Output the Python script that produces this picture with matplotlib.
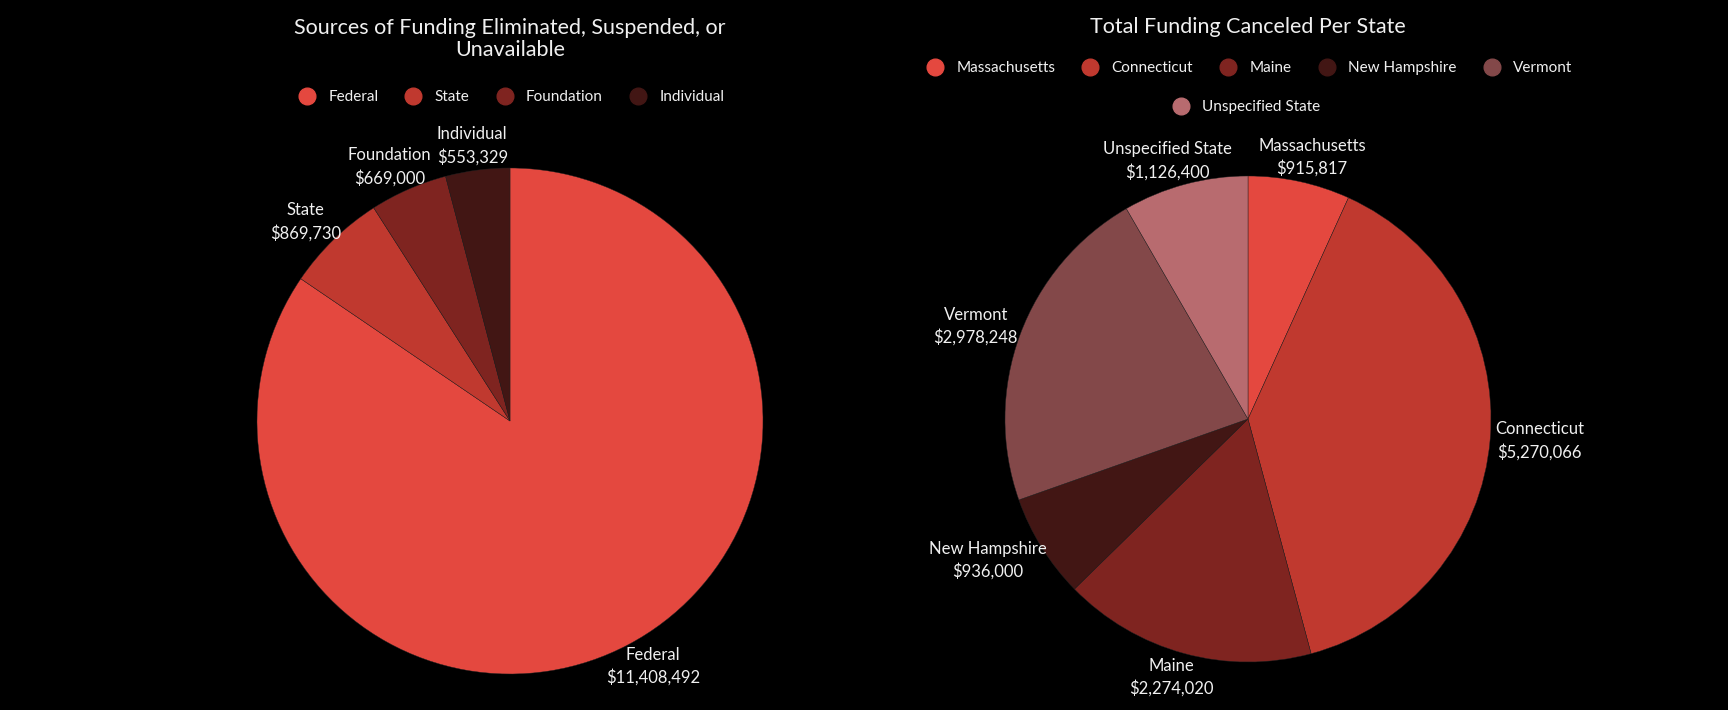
import matplotlib
matplotlib.use('Agg')
import matplotlib.pyplot as plt
from matplotlib.lines import Line2D
import numpy as np

plt.rcParams['font.family'] = ['Lato', 'DejaVu Sans']

# left chart: funding by source
source_names = ["Federal", "State", "Foundation", "Individual"]
source_values = [11408492, 869730, 669000, 553329]
source_colors = ["#e4483f", "#c0392f", "#7f2420", "#421614"]

# right chart: funding per state
state_names = ["Massachusetts", "Connecticut", "Maine", "New Hampshire", "Vermont", "Unspecified State"]
state_values = [915817, 5270066, 2274020, 936000, 2978248, 1126400]
state_colors = ["#e4483f", "#c0392f", "#7f2420", "#421614", "#834849", "#b86b6f"]

W, H = 1728, 710
fig = plt.figure(figsize=(W / 100, H / 100), dpi=100, facecolor="black")
txt_color = "#f0f0f0"


def pie_axes(cx, cy, r):
    # place axes so that one data unit = radius in pixels
    ax = fig.add_axes([(cx - r) / W, 1 - (cy + r) / H, 2 * r / W, 2 * r / H])
    ax.set_facecolor("black")
    return ax


def draw_pie(ax, names, values, colors, r_px):
    wedges, _ = ax.pie(values, colors=colors, startangle=90, counterclock=False,
                       wedgeprops=dict(linewidth=0.3, edgecolor="#222222"))
    ax.set_xlim(-1, 1)
    ax.set_ylim(-1, 1)
    ax.set_aspect('auto')
    ax.axis('off')
    fig.canvas.draw()
    rend = fig.canvas.get_renderer()
    for w, name, val in zip(wedges, names, values):
        ang = np.deg2rad((w.theta1 + w.theta2) / 2)
        ux, uy = np.cos(ang), np.sin(ang)
        t = ax.text(0, 0, "{}\n${:,}".format(name, val), color=txt_color, fontsize=12,
                    ha='center', va='center', linespacing=1.45)
        bb = t.get_window_extent(rend)
        tw, th = bb.width, bb.height
        gap = 5
        dx = (r_px + gap) * ux + tw / 2 * ux
        dy = (r_px + gap) * uy + th / 2 * uy
        t.set_position((dx / r_px, dy / r_px))
    return wedges


ax1 = pie_axes(510, 421, 253)
w1 = draw_pie(ax1, source_names, source_values, source_colors, 253)
ax2 = pie_axes(1248, 419, 243)
w2 = draw_pie(ax2, state_names, state_values, state_colors, 243)

fig.text(510 / W, 1 - 39 / H, "Sources of Funding Eliminated, Suspended, or\nUnavailable",
         color=txt_color, fontsize=15.5, ha='center', va='center', linespacing=1.1)
fig.text(1248 / W, 1 - 27 / H, "Total Funding Canceled Per State",
         color=txt_color, fontsize=15.5, ha='center', va='center')


def handles(names, colors):
    return [Line2D([], [], marker='o', linestyle='none', markersize=12,
                   markerfacecolor=c, markeredgecolor=c, label=n) for n, c in zip(names, colors)]


leg_kw = dict(frameon=False, labelcolor=txt_color, fontsize=11, handletextpad=0.4,
              columnspacing=1.3, loc='center')
fig.legend(handles=handles(source_names, source_colors), ncol=4,
           bbox_to_anchor=(508 / W, 1 - 97 / H), **leg_kw)
fig.legend(handles=handles(state_names[:5], state_colors[:5]), ncol=5,
           bbox_to_anchor=(1246 / W, 1 - 68 / H), **leg_kw)
fig.legend(handles=handles(state_names[5:], state_colors[5:]), ncol=1,
           bbox_to_anchor=(1243 / W, 1 - 107 / H), **leg_kw)

fig.savefig("out.png", dpi=100, facecolor="black")
